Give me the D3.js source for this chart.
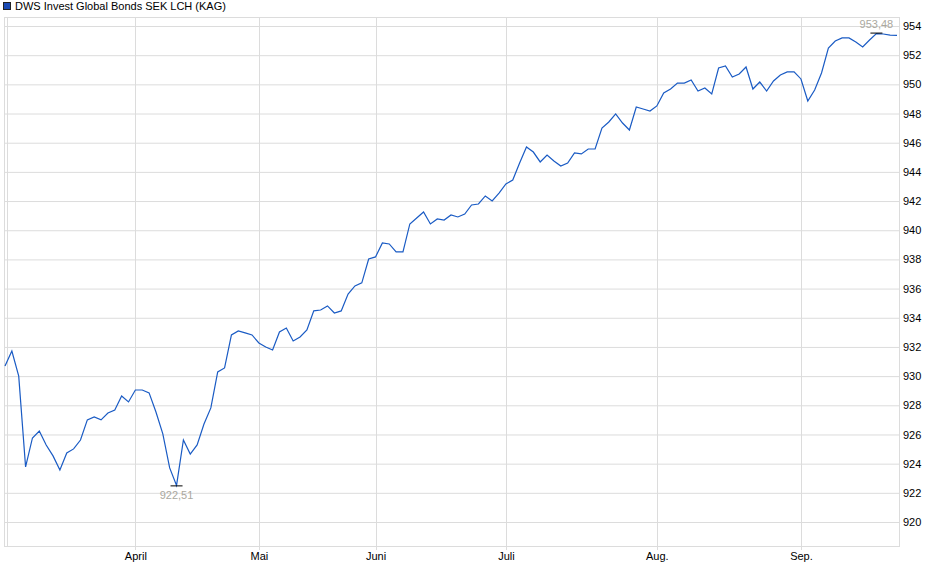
<!DOCTYPE html>
<html><head><meta charset="utf-8">
<script src="https://cdn.jsdelivr.net/npm/d3@7"></script>
<style>body{margin:0;background:#fff}svg{font-family:"Liberation Sans",Arial,sans-serif}</style>
</head><body><svg id="c" width="940" height="579"></svg>
<script>
const values=[930.70,931.72,930.0,923.78,925.76,926.24,925.28,924.53,923.57,924.73,925.01,925.62,927.00,927.20,927.00,927.47,927.68,928.64,928.23,929.05,929.05,928.85,927.54,926.04,923.71,922.51,925.62,924.66,925.28,926.72,927.82,930.29,930.56,932.82,933.10,932.96,932.82,932.27,932.00,931.79,933.03,933.30,932.41,932.68,933.16,934.47,934.53,934.81,934.33,934.47,935.63,936.18,936.39,938.03,938.17,939.13,939.06,938.51,938.51,940.43,940.84,941.25,940.43,940.77,940.70,941.05,940.91,941.11,941.73,941.80,942.35,942.01,942.55,943.17,943.44,944.61,945.71,945.36,944.68,945.16,944.75,944.40,944.61,945.30,945.23,945.57,945.57,947.01,947.42,947.97,947.35,946.87,948.45,948.31,948.17,948.52,949.41,949.68,950.09,950.09,950.30,949.54,949.75,949.34,951.12,951.26,950.50,950.71,951.19,949.68,950.16,949.54,950.23,950.64,950.85,950.85,950.37,948.86,949.61,950.78,952.49,952.97,953.18,953.18,952.90,952.56,953.04,953.48,953.45,953.38,953.36];
const monthIdx=[19,37,54,73,95,116];
const monthLabels=["April","Mai","Juni","Juli","Aug.","Sep."];
const yTicks=[920,922,924,926,928,930,932,934,936,938,940,942,944,946,948,950,952,954];
const title="DWS Invest Global Bonds SEK LCH (KAG)";

const svg=d3.select("#c");
const L=4,R=899,T=17,B=546;
const x=d3.scaleLinear().domain([0,values.length-1]).range([5,897]);
const y=d3.scaleLinear().domain([920,954]).range([522,26]);
const g=svg.append("g");
// grid
g.selectAll(".hg").data(yTicks).join("line").attr("x1",L).attr("x2",R).attr("y1",d=>y(d)+.5).attr("y2",d=>y(d)+.5).attr("stroke","#dcdcdc");
g.selectAll(".vg").data(monthIdx).join("line").attr("x1",d=>Math.round(x(d))+.5).attr("x2",d=>Math.round(x(d))+.5).attr("y1",T).attr("y2",B+4).attr("stroke","#dcdcdc");
// frame
svg.append("rect").attr("x",L+.5).attr("y",T+.5).attr("width",R-L).attr("height",B-T).attr("fill","none").attr("stroke","#dcdcdc");
svg.append("line").attr("x1",7.5).attr("x2",7.5).attr("y1",T).attr("y2",B).attr("stroke","#dcdcdc");
// axes
const ya=d3.axisRight(y).tickValues(yTicks).tickSize(0).tickPadding(4).tickFormat(d3.format("d"));
svg.append("g").attr("transform",`translate(${R},0)`).call(ya).call(a=>a.select(".domain").remove())
 .selectAll("text").attr("font-size",11).attr("fill","#000").attr("font-family","Liberation Sans, Arial");
const xa=d3.axisBottom(x).tickValues(monthIdx).tickSize(0).tickPadding(6).tickFormat((d,i)=>monthLabels[i]);
svg.append("g").attr("transform",`translate(0,${B})`).call(xa).call(a=>a.select(".domain").remove())
 .selectAll("text").attr("font-size",11).attr("fill","#000").attr("font-family","Liberation Sans, Arial");
// line
svg.append("path").datum(values).attr("fill","none").attr("stroke","#1a5bc4").attr("stroke-width",1.2)
 .attr("d",d3.line().x((d,i)=>x(i)).y(d=>y(d)));
// min/max
const maxI=d3.maxIndex(values),minI=d3.minIndex(values);
const fmt=v=>v.toFixed(2).replace(".",",");
[[maxI,-1],[minI,1]].forEach(([i,s])=>{
 const px=x(i),py=y(values[i]);
 svg.append("line").attr("x1",px-6).attr("x2",px+6).attr("y1",py+.5*s).attr("y2",py+.5*s).attr("stroke","#000");
 svg.append("text").attr("x",px).attr("y",s<0?py-6:py+14).attr("text-anchor","middle").attr("font-size",11).attr("fill","#aaa89e").text(fmt(values[i]));
});
// legend
svg.append("rect").attr("x",3.5).attr("y",2.5).attr("width",7).attr("height",7).attr("fill","#1a4ab4").attr("stroke","#222");
svg.append("text").attr("x",15).attr("y",10).attr("font-size",11).attr("fill","#000").text(title);
</script></body></html>
